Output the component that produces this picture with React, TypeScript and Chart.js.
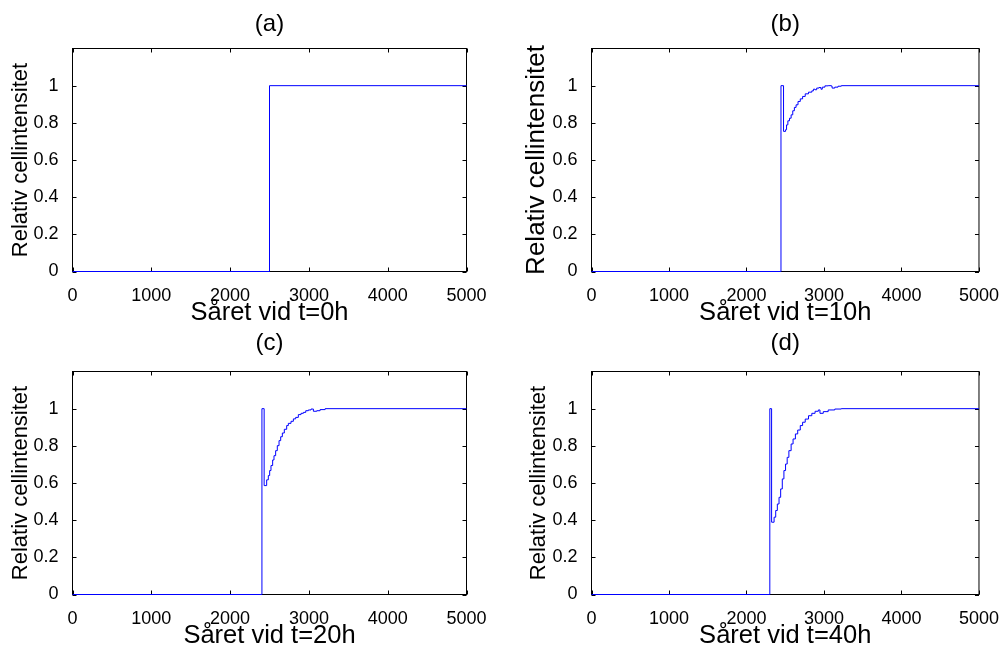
import React, { useEffect, useRef } from "react";
import { Chart, registerables } from "chart.js";

Chart.register(...registerables);

// ---------- data ----------
const xTickValues = [0, 1000, 2000, 3000, 4000, 5000];
const yTickValues = [0, 0.2, 0.4, 0.6, 0.8, 1];
const panelTitles = ["(a)", "(b)", "(c)", "(d)"];
const xAxisTitles = ["Såret vid t=0h", "Såret vid t=10h", "Såret vid t=20h", "Såret vid t=40h"];
const yAxisTitle = "Relativ cellintensitet";

const timeA = [0, 2500, 5000];
const intensityA = [0, 1, 1];

const timeB = [0, 2445, 2478, 2504, 2517, 2534, 2555, 2576, 2597, 2618, 2640, 2665, 2694, 2724, 2758, 2800, 2843, 2864, 2885, 2906, 2936, 2961, 2978, 3012, 3054, 3096, 3105, 3139, 3181, 3223, 5000];
const intensityB = [0, 1, 0.754, 0.763, 0.789, 0.811, 0.825, 0.843, 0.865, 0.883, 0.897, 0.915, 0.929, 0.942, 0.956, 0.965, 0.972, 0.981, 0.978, 0.987, 0.99, 0.981, 0.992, 0.999, 1.0, 0.997, 0.987, 0.992, 0.997, 1.0, 1.0];

const timeC = [0, 2404, 2432, 2464, 2485, 2502, 2519, 2540, 2557, 2578, 2599, 2621, 2642, 2663, 2688, 2718, 2739, 2773, 2803, 2832, 2866, 2900, 2930, 2960, 2993, 3027, 3057, 3100, 3142, 3206, 5000];
const intensityC = [0, 1, 0.586, 0.617, 0.64, 0.667, 0.694, 0.724, 0.747, 0.774, 0.801, 0.828, 0.849, 0.869, 0.889, 0.909, 0.921, 0.932, 0.945, 0.953, 0.968, 0.975, 0.98, 0.989, 0.993, 0.998, 0.986, 0.989, 0.995, 1.0, 1.0];

const timeD = [0, 2301, 2324, 2356, 2377, 2398, 2420, 2441, 2462, 2483, 2504, 2525, 2547, 2576, 2601, 2631, 2661, 2694, 2724, 2758, 2800, 2843, 2885, 2927, 2948, 2991, 3054, 3139, 3223, 5000];
const intensityD = [0, 1, 0.389, 0.416, 0.452, 0.487, 0.523, 0.568, 0.622, 0.667, 0.702, 0.738, 0.774, 0.81, 0.837, 0.864, 0.885, 0.909, 0.927, 0.944, 0.962, 0.975, 0.986, 0.993, 0.975, 0.984, 0.993, 0.998, 1.0, 1.0];

const seriesTimes = [timeA, timeB, timeC, timeD];
const seriesIntensities = [intensityA, intensityB, intensityC, intensityD];

// ---------- layout (page pixels) ----------
type Layout = {
  canvas: { left: number; top: number; width: number; height: number };
  area: { left: number; top: number; right: number; bottom: number };
  titleMid: number;
  xTitleMid: number;
  yTitleCenter: number;
  yTitleSize: number;
};

const layouts: Layout[] = [
  { canvas: { left: 0, top: 0, width: 502, height: 330 }, area: { left: 72.5, top: 48.5, right: 466.5, bottom: 271.5 }, titleMid: 24, xTitleMid: 313.2, yTitleCenter: 21, yTitleSize: 22 },
  { canvas: { left: 518, top: 0, width: 487, height: 330 }, area: { left: 591.5, top: 48.5, right: 984.5, bottom: 271.5 }, titleMid: 24, xTitleMid: 313.2, yTitleCenter: 537, yTitleSize: 26 },
  { canvas: { left: 0, top: 322, width: 502, height: 326 }, area: { left: 72.5, top: 371.5, right: 466.5, bottom: 594.5 }, titleMid: 343.5, xTitleMid: 636.2, yTitleCenter: 21, yTitleSize: 22 },
  { canvas: { left: 518, top: 322, width: 487, height: 326 }, area: { left: 591.5, top: 371.5, right: 984.5, bottom: 594.5 }, titleMid: 343.5, xTitleMid: 636.2, yTitleCenter: 539, yTitleSize: 22 },
];

const FONT = "'Liberation Sans', Arial, Helvetica, sans-serif";
const TICK_LEN = 4;

const framePlugin = {
  id: "matlabFrame",
  beforeDatasetsDraw(chart: any) {
    const { ctx, chartArea: a, scales } = chart;
    ctx.save();
    ctx.strokeStyle = "#000";
    ctx.lineWidth = 1;
    ctx.strokeRect(a.left, a.top, a.right - a.left, a.bottom - a.top);
    ctx.beginPath();
    for (const v of xTickValues) {
      const px = Math.round(scales.x.getPixelForValue(v)) + 0.5;
      ctx.moveTo(px, a.bottom);
      ctx.lineTo(px, a.bottom - TICK_LEN);
      ctx.moveTo(px, a.top);
      ctx.lineTo(px, a.top + TICK_LEN);
    }
    for (const v of yTickValues) {
      const py = Math.round(scales.y.getPixelForValue(v)) + 0.5;
      ctx.moveTo(a.left, py);
      ctx.lineTo(a.left + TICK_LEN, py);
      ctx.moveTo(a.right, py);
      ctx.lineTo(a.right - TICK_LEN, py);
    }
    ctx.stroke();
    ctx.restore();
  },
};

function Panel({ index }: { index: number }) {
  const ref = useRef<HTMLCanvasElement | null>(null);
  const L = layouts[index];

  useEffect(() => {
    if (!ref.current) return;
    const c = L.canvas;
    const a = L.area;
    const canvasBottom = c.top + c.height;
    const titlePadTop = L.titleMid - c.top - 12;
    const titlePadBottom = a.top - c.top - titlePadTop - 24;
    const xTitleSize = 25.5;
    const xTitlePadBottom = canvasBottom - L.xTitleMid - (0.8 * xTitleSize) / 2;
    const yTitlePadTop = L.yTitleCenter - c.left - L.yTitleSize / 2;

    const times = seriesTimes[index];
    const values = seriesIntensities[index];
    const points = times.map((t, i) => ({ x: t, y: values[i] }));

    const chart = new Chart(ref.current, {
      type: "line",
      data: {
        datasets: [
          {
            data: points,
            borderColor: "#0000ff",
            borderWidth: 1,
            pointRadius: 0,
            stepped: "before",
            fill: false,
            clip: false,
          } as any,
        ],
      },
      options: {
        animation: false,
        responsive: false,
        maintainAspectRatio: false,
        events: [],
        layout: {
          padding: { left: 0, top: 0, bottom: 0, right: c.left + c.width - a.right },
        },
        plugins: {
          legend: { display: false },
          tooltip: { enabled: false },
          title: {
            display: true,
            text: panelTitles[index],
            color: "#000",
            fullSize: false,
            font: { family: FONT, size: 24, weight: "normal", lineHeight: 1 },
            padding: { top: titlePadTop, bottom: titlePadBottom },
          },
        },
        scales: {
          x: {
            type: "linear",
            min: 0,
            max: 5000,
            grid: { display: false },
            border: { display: false },
            afterBuildTicks: (s: any) => {
              s.ticks = xTickValues.map((v) => ({ value: v }));
            },
            afterFit: (s: any) => {
              s.height = canvasBottom - a.bottom;
            },
            ticks: {
              color: "#000",
              padding: 6,
              maxRotation: 0,
              autoSkip: false,
              font: { family: FONT, size: 18 },
              callback: (v: any) => String(v),
            },
            title: {
              display: true,
              text: xAxisTitles[index],
              color: "#000",
              font: { family: FONT, size: xTitleSize, lineHeight: 0.8 },
              padding: { top: 0, bottom: xTitlePadBottom },
            },
          },
          y: {
            type: "linear",
            min: 0,
            max: 1.2,
            grid: { display: false },
            border: { display: false },
            afterBuildTicks: (s: any) => {
              s.ticks = yTickValues.map((v) => ({ value: v }));
            },
            afterFit: (s: any) => {
              s.width = a.left - c.left;
            },
            ticks: {
              color: "#000",
              padding: 6,
              autoSkip: false,
              font: { family: FONT, size: 18 },
              callback: (v: any) => String(Math.round(v * 10) / 10),
            },
            title: {
              display: true,
              text: yAxisTitle,
              color: "#000",
              font: { family: FONT, size: L.yTitleSize, lineHeight: 1 },
              padding: { top: yTitlePadTop, bottom: 0 },
            },
          },
        },
      },
      plugins: [framePlugin],
    } as any);
    return () => chart.destroy();
  }, [index]);

  return (
    <div
      style={{
        position: "absolute",
        left: L.canvas.left,
        top: L.canvas.top,
        width: L.canvas.width,
        height: L.canvas.height,
      }}
    >
      <canvas
        ref={ref}
        width={L.canvas.width}
        height={L.canvas.height}
        style={{ width: L.canvas.width, height: L.canvas.height, display: "block" }}
      />
    </div>
  );
}

export default function App() {
  return (
    <div style={{ position: "absolute", left: 0, top: 0, width: 1005, height: 648, background: "#fff", overflow: "hidden" }}>
      {[0, 1, 2, 3].map((i) => (
        <Panel key={i} index={i} />
      ))}
    </div>
  );
}
